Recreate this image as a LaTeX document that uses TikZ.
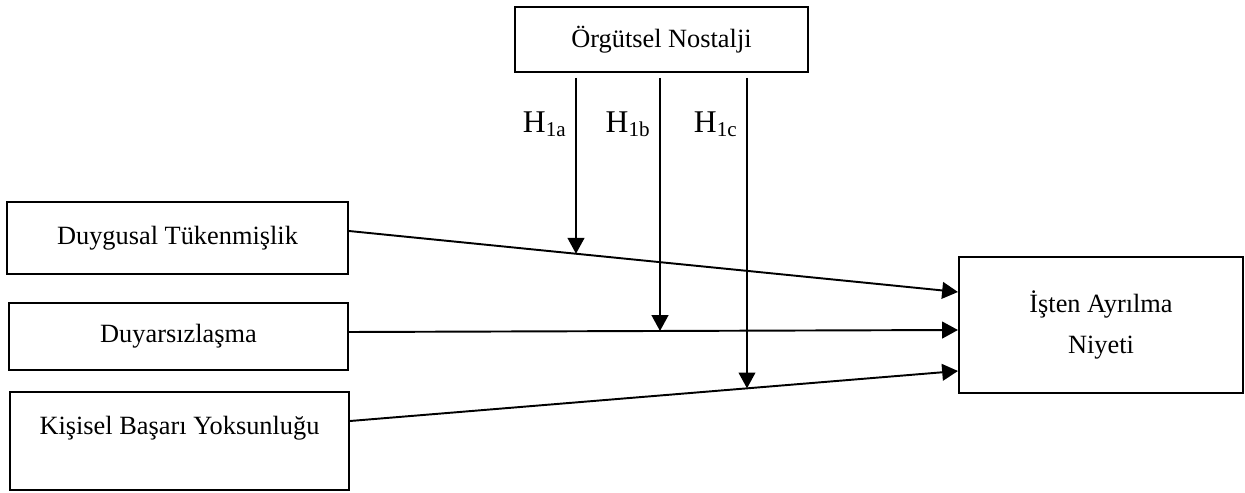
\documentclass[tikz,border=0pt]{standalone}
\usepackage{fontspec}
\setmainfont{Liberation Serif}
\usetikzlibrary{arrows.meta,intersections}

\tikzset{
  kutu/.style={draw, line width=1.2pt, inner sep=0pt, align=center,
    font=\fontsize{15}{18}\selectfont},
  ok/.style={line width=1.1pt, -{Triangle[length=9pt,width=9.5pt]}},
  hlab/.style={anchor=east, inner sep=0pt, font=\fontsize{18}{20}\selectfont}
}
\newcommand{\hyp}[1]{H\raisebox{-2.5pt}{\fontsize{12}{14}\selectfont #1}}

\begin{document}
\begin{tikzpicture}[x=0.02cm, y=-0.02cm]
  \useasboundingbox (0,0) rectangle (1245,493);
  % kutular
  \node[kutu, minimum width=5.86cm, minimum height=1.3cm] (nostalji) at (661.5,39.5) {Örgütsel Nostalji};
  \node[kutu, minimum width=6.82cm, minimum height=1.44cm] (duygusal) at (177.5,238) {Duygusal Tükenmişlik};
  \node[kutu, minimum width=6.78cm, minimum height=1.34cm] (duyarsiz) at (178.5,336.5) {Duyarsızlaşma};
  \node[kutu, minimum width=6.78cm, minimum height=1.96cm, font=\fontsize{15}{18.2}\selectfont] (kisisel) at (179.5,441) {Kişisel Başarı Yoksunluğu\\ \mbox{}};
  \node[kutu, minimum width=5.68cm, minimum height=2.72cm, font=\fontsize{15}{23.5}\selectfont] (niyet) at (1101,325) {İşten Ayrılma\\ Niyeti};
  % ana yollar
  \draw[ok, name path=yol1] ([yshift=0.14cm]duygusal.east) -- ([yshift=0.66cm]niyet.west);
  \draw[ok, name path=yol2] ([yshift=0.09cm]duyarsiz.east) -- ([yshift=-0.1cm]niyet.west);
  \draw[ok, name path=yol3] ([yshift=0.4cm]kisisel.east) -- ([yshift=-0.92cm]niyet.west);
  % düzenleyici etkiler
  \foreach \x/\yol/\ad/\alt in {576/yol1/h1a/1a, 660/yol2/h1b/1b, 747/yol3/h1c/1c} {
    \coordinate (\ad-bas) at (\x,78);
    \path[name path=\ad-yol] (\ad-bas) -- (\x,480);
    \path[name intersections={of=\ad-yol and \yol, by=\ad-uc}];
    \draw[ok] (\ad-bas) -- (\ad-uc);
    \node[hlab] (\ad-lab) at (\x-10,124) {\hyp{\alt}};
  }
\end{tikzpicture}
\end{document}
